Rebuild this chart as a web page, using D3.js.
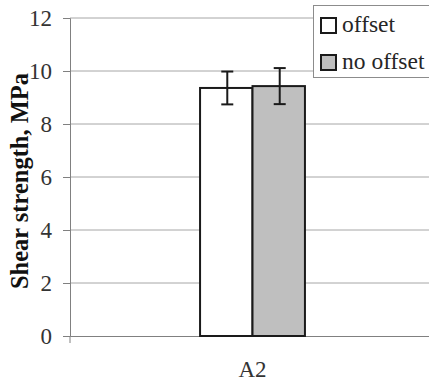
<!DOCTYPE html>
<html>
<head>
<meta charset="utf-8">
<script src="https://cdn.jsdelivr.net/npm/d3@7"></script>
<style>
  html, body { margin: 0; padding: 0; background: #fff; overflow: hidden; }
  svg { display: block; }
</style>
</head>
<body>
<svg id="chart"></svg>
<script>
/* data */
const categories = ["A2"];
const seriesNames = ["offset", "no offset"];
const seriesColors = ["#ffffff", "#bfbfbf"];
const means = [[9.36], [9.43]];
const errors = [[0.62], [0.68]];
const yTicks = [0, 2, 4, 6, 8, 10, 12];

const width = 429, height = 387;
const margin = { top: 18, right: -6, bottom: 51, left: 70 };
const serif = "Liberation Serif";

const svg = d3.select("#chart").attr("width", width).attr("height", height);

/* scales */
const x = d3.scaleBand().domain(categories)
  .range([margin.left, width - margin.right]).paddingInner(0).paddingOuter(0);
const x1 = d3.scaleBand().domain(seriesNames).range([0, x.bandwidth()]).paddingOuter(2.48).paddingInner(0);
const y = d3.scaleLinear().domain([0, 12]).range([height - margin.bottom, margin.top]);

/* gridlines */
svg.append("g").selectAll("line").data(yTicks.filter(d => d > 0)).enter().append("line")
  .attr("x1", margin.left).attr("x2", width - margin.right)
  .attr("y1", d => y(d)).attr("y2", d => y(d))
  .attr("stroke", "#a6a6a6").attr("stroke-width", 1);

/* y axis */
const yAxis = svg.append("g").attr("transform", `translate(${margin.left},0)`)
  .call(d3.axisLeft(y).tickValues(yTicks).tickSize(7).tickPadding(11));
yAxis.attr("font-family", null).attr("font-size", null);
yAxis.select(".domain").attr("stroke", "#808080");
yAxis.selectAll(".tick line").attr("stroke", "#808080");
yAxis.selectAll(".tick text").style("font-family", serif).attr("font-size", 23).attr("fill", "#333");

/* x axis */
const xAxis = svg.append("g").attr("transform", `translate(0,${y(0)})`)
  .call(d3.axisBottom(x).tickSize(0).tickPadding(25));
xAxis.attr("font-family", null).attr("font-size", null);
xAxis.select(".domain").attr("stroke", "#808080");
xAxis.selectAll(".tick text").style("font-family", serif).attr("font-size", 23).attr("fill", "#333");
svg.append("line").attr("x1", margin.left).attr("x2", margin.left)
  .attr("y1", y(0)).attr("y2", y(0) + 7).attr("stroke", "#808080");

/* bars */
const groups = svg.append("g").selectAll("g").data(categories).enter().append("g")
  .attr("transform", d => `translate(${x(d)},0)`);

seriesNames.forEach((s, si) => {
  groups.append("rect")
    .attr("x", x1(s)).attr("width", x1.bandwidth())
    .attr("y", (d, i) => y(means[si][i]))
    .attr("height", (d, i) => y(0) - y(means[si][i]))
    .attr("fill", seriesColors[si]).attr("stroke", "#1a1a1a").attr("stroke-width", 2);

  /* error bars */
  const cx = x1(s) + x1.bandwidth() / 2 + 1;
  const eb = groups.append("g").attr("stroke", "#1a1a1a").attr("stroke-width", 2);
  eb.append("line").attr("x1", cx).attr("x2", cx)
    .attr("y1", (d, i) => y(means[si][i] + errors[si][i]))
    .attr("y2", (d, i) => y(means[si][i] - errors[si][i]));
  [1, -1].forEach(sign => {
    eb.append("line").attr("x1", cx - 6).attr("x2", cx + 6)
      .attr("y1", (d, i) => y(means[si][i] + sign * errors[si][i]))
      .attr("y2", (d, i) => y(means[si][i] + sign * errors[si][i]));
  });
});

/* y title */
svg.append("text")
  .attr("transform", `translate(28,${(y(0) + y(12)) / 2 + 4}) rotate(-90)`)
  .attr("text-anchor", "middle")
  .style("font-family", serif).attr("font-size", 24.5).attr("font-weight", "bold")
  .attr("fill", "#111").text("Shear strength, MPa");

/* legend */
const legend = svg.append("g").attr("transform", "translate(313,5)");
legend.append("rect").attr("x", 0.5).attr("y", 0.5).attr("width", 130).attr("height", 72)
  .attr("fill", "#fff").attr("stroke", "#8c8c8c");
seriesNames.forEach((s, i) => {
  legend.append("rect").attr("x", 8).attr("y", 13 + i * 37).attr("width", 15).attr("height", 15)
    .attr("fill", seriesColors[i]).attr("stroke", "#1a1a1a").attr("stroke-width", 2);
  legend.append("text").attr("x", 29).attr("y", 27 + i * 37)
    .style("font-family", serif).attr("font-size", 23.5).attr("fill", "#262626").text(s);
});
</script>
</body>
</html>
